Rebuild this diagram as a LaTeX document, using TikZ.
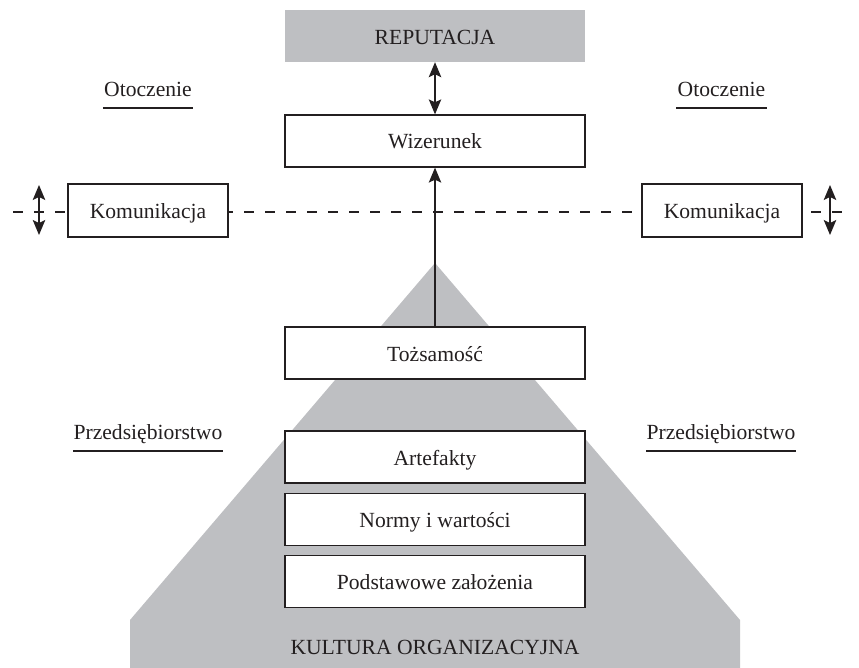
\documentclass[tikz,border=0pt]{standalone}
\usepackage{fontspec}
\setmainfont{Liberation Serif}
\usetikzlibrary{arrows.meta,calc}
\definecolor{pyrgray}{RGB}{190,191,194}
\definecolor{ink}{RGB}{35,31,32}
\begin{document}
\begin{tikzpicture}[x=1pt,y=-1pt,
  every node/.style={font=\fontsize{21.6}{24}\selectfont, text=ink},
  box/.style={draw=ink, line width=1.3pt, fill=white, minimum width=300pt, minimum height=52pt,
    inner sep=0pt, text height=16pt, text depth=0pt},
  kombox/.style={box, minimum width=160pt, minimum height=53pt},
  repbox/.style={fill=pyrgray, minimum width=300pt, minimum height=52pt, inner sep=0pt,
    text height=18pt, text depth=0pt},
  lbl/.style={inner sep=0pt, anchor=base},
  uline/.style={draw=ink, line width=2.6pt},
  dashline/.style={draw=ink, line width=2pt, dash pattern=on 10pt off 11pt},
  tip/.tip={Stealth[length=15pt,width=12.5pt,inset=3pt]},
  arr/.style={draw=ink, line width=1.3pt, -tip},
  darr/.style={draw=ink, line width=1.3pt, tip-tip}
]
\useasboundingbox (0,0) rectangle (859,668);
% pyramid
\fill[pyrgray] (435,263) -- (130,620) -- (130,668) -- (740,668) -- (740,620) -- cycle;
% dashed line
\coordinate (dl) at (13,212);
\coordinate (dr) at (846,212);
\draw[dashline] (dl) -- (dr);
% boxes
\node[repbox] (rep) at (435,36) {REPUTACJA};
\node[box] (wiz) at (435,141) {Wizerunek};
\node[kombox] (komL) at (148,210.5) {Komunikacja};
\node[kombox] (komR) at (722,210.5) {Komunikacja};
\node[box] (toz) at (435,353) {Tożsamość};
\node[box] (art) at (435,457) {Artefakty};
\node[box] (nor) at (435,519.5) {Normy i wartości};
\node[box] (pod) at (435,581.5) {Podstawowe założenia};
\node[lbl] (kult) at (435,654) {KULTURA ORGANIZACYJNA};
% arrows
\draw[darr] (rep.south) -- (wiz.north);
\draw[arr] (toz.north) -- (wiz.south);
\coordinate (aLt) at (39,185);
\coordinate (aLb) at (39,235);
\coordinate (aRt) at (830,185);
\coordinate (aRb) at (830,235);
\draw[darr] (aLt) -- (aLb);
\draw[darr] (aRt) -- (aRb);
% labels
\node[lbl, minimum width=90pt] (otL) at (148,97) {Otoczenie};
\node[lbl, minimum width=90pt] (otR) at (721.5,97) {Otoczenie};
\node[lbl, minimum width=146pt] (prL) at (148,439) {Przedsiębiorstwo};
\node[lbl, minimum width=146pt] (prR) at (721,439) {Przedsiębiorstwo};
\draw[uline] ($(otL.base west)+(0,11)$) -- ($(otL.base east)+(0,11)$);
\draw[uline] ($(otR.base west)+(0,11)$) -- ($(otR.base east)+(0,11)$);
\draw[uline] ($(prL.base west)+(0,12)$) -- ($(prL.base east)+(0,12)$);
\draw[uline] ($(prR.base west)+(0,12)$) -- ($(prR.base east)+(0,12)$);
\end{tikzpicture}
\end{document}
